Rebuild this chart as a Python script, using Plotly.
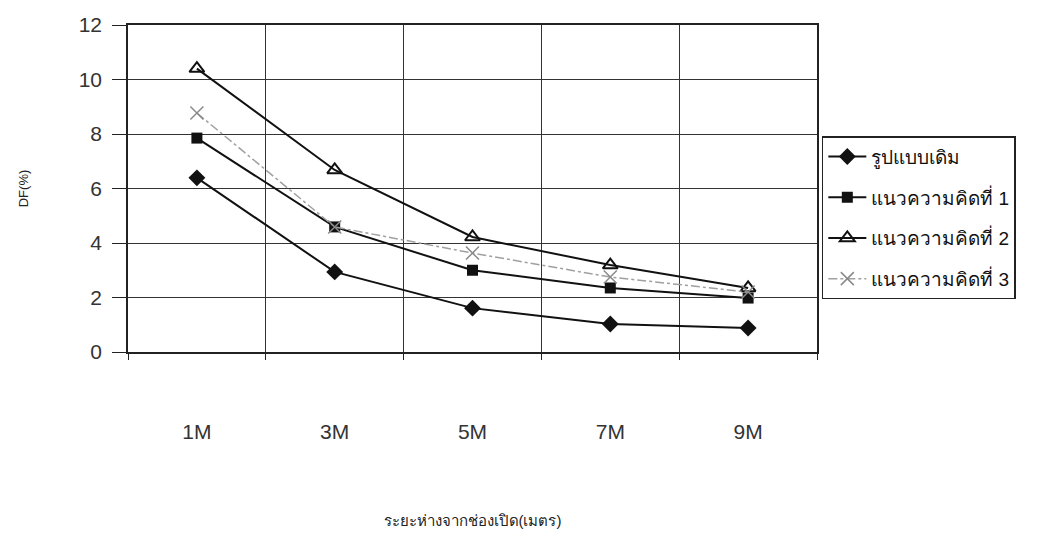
import plotly.graph_objects as go

distances = ["1M", "3M", "5M", "7M", "9M"]
original = [6.39, 2.94, 1.61, 1.03, 0.88]
concept_1 = [7.85, 4.59, 3.0, 2.35, 1.98]
concept_2 = [10.4, 6.68, 4.22, 3.19, 2.35]
concept_3 = [8.77, 4.59, 3.63, 2.75, 2.2]

font_family = "Arial, Liberation Sans, Noto Sans, sans-serif"

fig = go.Figure()

# --- Series ---
fig.add_trace(go.Scatter(
    x=distances, y=original, name="รูปแบบเดิม", mode="lines+markers",
    line=dict(color="#111111", width=2),
    marker=dict(symbol="diamond", size=13, color="#111111"),
    legendgroup="a"
))
fig.add_trace(go.Scatter(
    x=distances, y=concept_1, name="แนวความคิดที่ 1", mode="lines+markers",
    line=dict(color="#111111", width=2),
    marker=dict(symbol="square", size=11, color="#111111"),
    legendgroup="b"
))
fig.add_trace(go.Scatter(
    x=distances, y=concept_2, name="แนวความคิดที่ 2", mode="lines+markers",
    line=dict(color="#111111", width=2),
    marker=dict(symbol="triangle-up-open", size=13, color="#111111",
                line=dict(width=2, color="#111111")),
    legendgroup="c"
))
fig.add_trace(go.Scatter(
    x=distances, y=concept_3, name="แนวความคิดที่ 3", mode="lines+markers",
    line=dict(color="#a0a0a0", width=1.5, dash="dashdot"),
    marker=dict(symbol="x-thin-open", size=13, color="#8a8a8a",
                line=dict(width=1.5, color="#8a8a8a")),
    legendgroup="d"
))

# page body has an 8px margin, so the figure's own margins are trimmed by that
fig.update_layout(
    width=1055, height=530,
    margin=dict(l=120, r=246, t=17, b=186),
    paper_bgcolor="white", plot_bgcolor="white",
    font=dict(family=font_family, color="#222222"),
    showlegend=True,
    legend=dict(
        x=1.007, y=0.66, xanchor="left", yanchor="top",
        bordercolor="#222222", borderwidth=1.5,
        font=dict(size=19, color="#111111"),
        tracegroupgap=13, itemwidth=38,
    ),
)

fig.update_xaxes(
    type="category", tickson="boundaries", range=[-0.5, 4.5], automargin=False,
    showgrid=True, gridcolor="#333333", gridwidth=1,
    showline=True, linecolor="#222222", linewidth=1.5, mirror=True,
    ticks="outside", ticklen=6, tickcolor="#222222",
    tickfont=dict(size=21, color="#333333"), ticklabelstandoff=60,
    title=dict(text="ระยะห่างจากช่องเปิด(เมตร)", font=dict(size=15, color="#222222"), standoff=74),
)
fig.update_yaxes(
    range=[0, 12], dtick=2, automargin=False,
    showgrid=True, gridcolor="#333333", gridwidth=1, zeroline=False,
    showline=True, linecolor="#222222", linewidth=1.5, mirror=True,
    ticks="outside", ticklen=14, tickcolor="#222222",
    tickfont=dict(size=21, color="#333333"), ticklabelstandoff=6,
    title=dict(text="DF(%)", font=dict(size=13, color="#222222"), standoff=47),
)

fig.write_html("out.html")
